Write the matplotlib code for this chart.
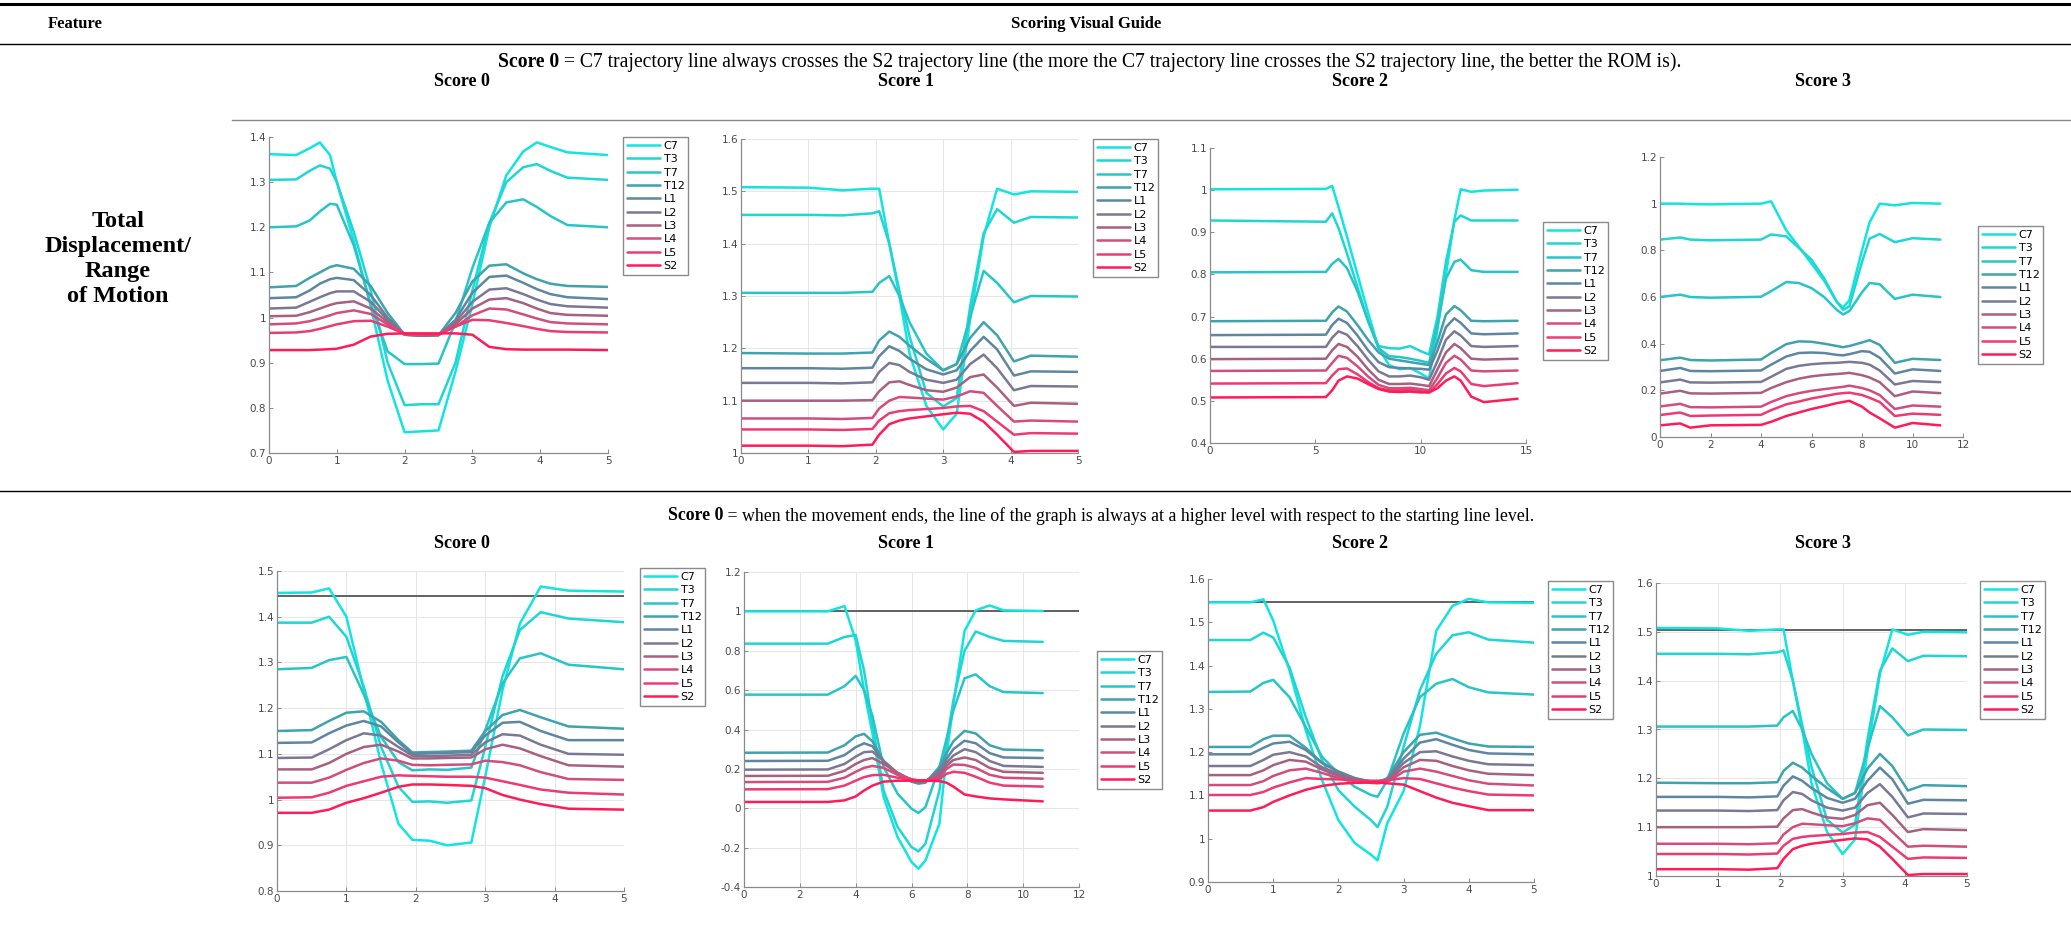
import matplotlib
matplotlib.use("Agg")
import matplotlib.pyplot as plt
from matplotlib.ticker import FormatStrFormatter

W, H = 2071, 925
fig = plt.figure(figsize=(W / 100, H / 100), dpi=100)
fig.patch.set_facecolor("white")

# ---------------- data ----------------
markers = ["C7", "T3", "T7", "T12", "L1", "L2", "L3", "L4", "L5", "S2"]

# row 1, score 0
r1s0_x = [0, 0.4, 0.6, 0.75, 0.9, 1.0, 1.25, 1.5, 1.75, 2.0, 2.25, 2.5, 2.75, 3.0, 3.25, 3.5, 3.75, 3.95, 4.15, 4.4, 5.0]
r1s0_y = [
    [1.362, 1.360, 1.375, 1.388, 1.360, 1.300, 1.170, 1.025, 0.860, 0.746, 0.748, 0.750, 0.880, 1.030, 1.200, 1.315, 1.368, 1.388, 1.378, 1.366, 1.360],
    [1.305, 1.306, 1.325, 1.337, 1.330, 1.300, 1.190, 1.060, 0.900, 0.806, 0.808, 0.808, 0.900, 1.060, 1.210, 1.300, 1.333, 1.340, 1.325, 1.310, 1.305],
    [1.200, 1.202, 1.215, 1.235, 1.252, 1.250, 1.160, 1.030, 0.925, 0.897, 0.897, 0.898, 0.990, 1.110, 1.210, 1.255, 1.262, 1.245, 1.225, 1.205, 1.200],
    [1.067, 1.070, 1.088, 1.100, 1.112, 1.116, 1.108, 1.070, 1.010, 0.962, 0.960, 0.961, 1.010, 1.080, 1.115, 1.118, 1.098, 1.085, 1.075, 1.070, 1.068],
    [1.043, 1.045, 1.060, 1.075, 1.085, 1.088, 1.083, 1.050, 1.000, 0.962, 0.960, 0.961, 0.995, 1.055, 1.090, 1.093, 1.077, 1.063, 1.052, 1.045, 1.041],
    [1.020, 1.022, 1.035, 1.045, 1.054, 1.058, 1.058, 1.035, 0.995, 0.962, 0.960, 0.961, 0.990, 1.035, 1.062, 1.065, 1.052, 1.040, 1.030, 1.025, 1.022],
    [1.003, 1.004, 1.012, 1.020, 1.028, 1.032, 1.036, 1.020, 0.990, 0.963, 0.961, 0.962, 0.985, 1.020, 1.040, 1.043, 1.032, 1.020, 1.010, 1.006, 1.004],
    [0.985, 0.987, 0.992, 0.998, 1.005, 1.010, 1.016, 1.008, 0.985, 0.963, 0.962, 0.962, 0.980, 1.005, 1.020, 1.018, 1.007, 0.998, 0.990, 0.987, 0.985],
    [0.966, 0.967, 0.970, 0.975, 0.981, 0.985, 0.992, 0.993, 0.980, 0.964, 0.963, 0.963, 0.980, 0.995, 0.994, 0.988, 0.981, 0.975, 0.970, 0.968, 0.967],
    [0.928, 0.928, 0.928, 0.929, 0.930, 0.931, 0.940, 0.958, 0.964, 0.965, 0.965, 0.965, 0.965, 0.962, 0.935, 0.930, 0.929, 0.929, 0.929, 0.929, 0.928],
]

# row 1, score 1 (same recording is shown again in row 2, score 3)
r1s1_x = [0, 1.0, 1.5, 1.95, 2.05, 2.2, 2.35, 2.5, 2.75, 3.0, 3.2, 3.4, 3.6, 3.8, 4.05, 4.3, 5.0]
r1s1_y = [
    [1.508, 1.507, 1.502, 1.505, 1.505, 1.400, 1.300, 1.190, 1.090, 1.045, 1.075, 1.255, 1.414, 1.505, 1.494, 1.500, 1.499],
    [1.455, 1.455, 1.454, 1.458, 1.462, 1.400, 1.310, 1.223, 1.115, 1.089, 1.105, 1.280, 1.420, 1.466, 1.440, 1.451, 1.450],
    [1.306, 1.306, 1.306, 1.308, 1.325, 1.338, 1.300, 1.250, 1.190, 1.158, 1.170, 1.260, 1.348, 1.325, 1.288, 1.300, 1.299],
    [1.191, 1.190, 1.190, 1.192, 1.215, 1.232, 1.222, 1.205, 1.180, 1.158, 1.170, 1.220, 1.250, 1.225, 1.175, 1.186, 1.184],
    [1.162, 1.162, 1.161, 1.163, 1.185, 1.204, 1.195, 1.180, 1.160, 1.150, 1.158, 1.195, 1.222, 1.198, 1.148, 1.156, 1.155],
    [1.134, 1.134, 1.133, 1.135, 1.155, 1.172, 1.168, 1.155, 1.140, 1.134, 1.140, 1.170, 1.188, 1.162, 1.120, 1.128, 1.127],
    [1.100, 1.100, 1.100, 1.101, 1.118, 1.135, 1.137, 1.130, 1.120, 1.117, 1.125, 1.145, 1.150, 1.125, 1.090, 1.096, 1.094],
    [1.066, 1.066, 1.065, 1.067, 1.085, 1.100, 1.107, 1.106, 1.104, 1.102, 1.108, 1.118, 1.115, 1.090, 1.060, 1.062, 1.060],
    [1.045, 1.045, 1.044, 1.046, 1.062, 1.076, 1.080, 1.082, 1.084, 1.086, 1.089, 1.090, 1.080, 1.060, 1.035, 1.038, 1.037],
    [1.014, 1.014, 1.013, 1.016, 1.035, 1.055, 1.062, 1.066, 1.070, 1.074, 1.077, 1.075, 1.060, 1.035, 1.002, 1.004, 1.004],
]

# row 1, score 2
r1s2_x = [0, 5.5, 5.8, 6.1, 6.5, 7.0, 7.5, 8.0, 8.5, 9.0, 9.5, 10.0, 10.4, 10.8, 11.2, 11.6, 11.9, 12.4, 13.0, 14.6]
r1s2_y = [
    [1.002, 1.003, 1.010, 0.960, 0.890, 0.800, 0.710, 0.625, 0.585, 0.575, 0.578, 0.565, 0.553, 0.670, 0.800, 0.930, 1.002, 0.996, 0.999, 1.001],
    [0.928, 0.925, 0.945, 0.910, 0.850, 0.770, 0.690, 0.630, 0.625, 0.624, 0.630, 0.618, 0.610, 0.700, 0.830, 0.925, 0.940, 0.928, 0.928, 0.928],
    [0.805, 0.806, 0.825, 0.837, 0.815, 0.760, 0.690, 0.625, 0.606, 0.604, 0.600, 0.595, 0.590, 0.680, 0.790, 0.830, 0.835, 0.810, 0.806, 0.806],
    [0.689, 0.690, 0.710, 0.724, 0.712, 0.680, 0.645, 0.615, 0.600, 0.596, 0.592, 0.588, 0.585, 0.640, 0.705, 0.725, 0.715, 0.690, 0.689, 0.690],
    [0.656, 0.657, 0.680, 0.695, 0.685, 0.655, 0.620, 0.592, 0.580, 0.578, 0.577, 0.576, 0.574, 0.620, 0.675, 0.696, 0.685, 0.660, 0.658, 0.660],
    [0.628, 0.628, 0.650, 0.665, 0.657, 0.630, 0.598, 0.570, 0.558, 0.558, 0.560, 0.556, 0.550, 0.595, 0.645, 0.665, 0.655, 0.630, 0.628, 0.630],
    [0.599, 0.600, 0.620, 0.635, 0.628, 0.605, 0.575, 0.550, 0.540, 0.540, 0.541, 0.538, 0.535, 0.575, 0.615, 0.635, 0.625, 0.600, 0.598, 0.600],
    [0.571, 0.572, 0.590, 0.607, 0.602, 0.582, 0.558, 0.538, 0.530, 0.530, 0.531, 0.528, 0.525, 0.555, 0.590, 0.607, 0.598, 0.572, 0.570, 0.572],
    [0.541, 0.542, 0.560, 0.575, 0.577, 0.563, 0.545, 0.530, 0.525, 0.525, 0.526, 0.523, 0.520, 0.540, 0.565, 0.578, 0.570, 0.540, 0.535, 0.542],
    [0.508, 0.509, 0.525, 0.548, 0.558, 0.553, 0.540, 0.528, 0.522, 0.521, 0.522, 0.520, 0.520, 0.530, 0.548, 0.558, 0.548, 0.510, 0.497, 0.505],
]

# row 1, score 3
r1s3_x = [0, 0.8, 1.2, 2.0, 4.0, 4.4, 5.0, 5.5, 6.0, 6.5, 7.0, 7.25, 7.5, 8.0, 8.3, 8.7, 9.3, 10.0, 11.1]
r1s3_y = [
    [1.000, 1.000, 0.998, 0.997, 1.000, 1.010, 0.886, 0.815, 0.743, 0.670, 0.579, 0.555, 0.586, 0.800, 0.920, 1.000, 0.993, 1.003, 1.000],
    [0.846, 0.855, 0.846, 0.843, 0.846, 0.868, 0.860, 0.810, 0.760, 0.680, 0.580, 0.545, 0.560, 0.750, 0.850, 0.870, 0.835, 0.852, 0.846],
    [0.600, 0.610, 0.600, 0.597, 0.601, 0.625, 0.664, 0.660, 0.638, 0.600, 0.545, 0.525, 0.540, 0.620, 0.660, 0.655, 0.592, 0.610, 0.600],
    [0.329, 0.340, 0.330, 0.328, 0.332, 0.360, 0.398, 0.410, 0.408, 0.400, 0.390, 0.385, 0.390, 0.405, 0.415, 0.395, 0.318, 0.335, 0.330],
    [0.283, 0.296, 0.283, 0.282, 0.285, 0.310, 0.345, 0.360, 0.362, 0.360, 0.352, 0.350, 0.355, 0.368, 0.365, 0.340, 0.272, 0.290, 0.283],
    [0.234, 0.246, 0.234, 0.233, 0.236, 0.258, 0.292, 0.305, 0.312, 0.316, 0.318, 0.320, 0.322, 0.318, 0.310, 0.285, 0.225, 0.240, 0.235],
    [0.186, 0.198, 0.187, 0.186, 0.189, 0.210, 0.235, 0.250, 0.260, 0.266, 0.270, 0.272, 0.275, 0.265, 0.255, 0.235, 0.175, 0.195, 0.188],
    [0.131, 0.142, 0.128, 0.127, 0.130, 0.150, 0.175, 0.188, 0.198, 0.205, 0.212, 0.215, 0.220, 0.210, 0.200, 0.180, 0.120, 0.135, 0.130],
    [0.094, 0.105, 0.090, 0.092, 0.095, 0.115, 0.140, 0.152, 0.165, 0.175, 0.185, 0.188, 0.190, 0.180, 0.168, 0.150, 0.090, 0.100, 0.095],
    [0.050, 0.058, 0.040, 0.050, 0.052, 0.065, 0.090, 0.105, 0.120, 0.132, 0.145, 0.150, 0.155, 0.130, 0.105, 0.080, 0.040, 0.060, 0.050],
]

# row 2, score 0
r2s0_x = [0, 0.5, 0.75, 1.0, 1.25, 1.5, 1.75, 1.95, 2.2, 2.45, 2.8, 3.0, 3.25, 3.5, 3.8, 4.2, 5.0]
r2s0_y = [
    [1.452, 1.453, 1.462, 1.400, 1.240, 1.079, 0.947, 0.912, 0.910, 0.900, 0.906, 1.050, 1.240, 1.385, 1.466, 1.457, 1.455],
    [1.387, 1.387, 1.400, 1.356, 1.247, 1.115, 1.028, 0.995, 0.996, 0.993, 0.998, 1.115, 1.270, 1.371, 1.410, 1.396, 1.388],
    [1.285, 1.288, 1.305, 1.312, 1.230, 1.137, 1.082, 1.064, 1.066, 1.065, 1.070, 1.152, 1.254, 1.309, 1.320, 1.295, 1.285],
    [1.150, 1.152, 1.172, 1.190, 1.193, 1.170, 1.130, 1.103, 1.104, 1.105, 1.107, 1.150, 1.185, 1.196, 1.180, 1.160, 1.155],
    [1.124, 1.125, 1.145, 1.162, 1.172, 1.160, 1.125, 1.100, 1.101, 1.102, 1.104, 1.140, 1.168, 1.170, 1.150, 1.130, 1.130],
    [1.091, 1.092, 1.110, 1.130, 1.145, 1.140, 1.115, 1.096, 1.095, 1.096, 1.098, 1.125, 1.143, 1.140, 1.120, 1.100, 1.098],
    [1.066, 1.066, 1.080, 1.100, 1.115, 1.120, 1.105, 1.090, 1.090, 1.091, 1.092, 1.110, 1.120, 1.112, 1.095, 1.075, 1.072],
    [1.037, 1.037, 1.048, 1.065, 1.080, 1.090, 1.085, 1.076, 1.075, 1.076, 1.077, 1.085, 1.082, 1.075, 1.060, 1.045, 1.043],
    [1.004, 1.005, 1.015, 1.030, 1.040, 1.050, 1.053, 1.052, 1.051, 1.050, 1.050, 1.048, 1.040, 1.032, 1.022, 1.015, 1.011],
    [0.971, 0.971, 0.978, 0.993, 1.003, 1.015, 1.028, 1.033, 1.033, 1.032, 1.030, 1.025, 1.010, 1.000, 0.990, 0.980, 0.978],
]

# row 2, score 1
r2s1_x = [0, 3.0, 3.6, 4.0, 4.3, 4.6, 5.0, 5.5, 6.0, 6.25, 6.5, 7.0, 7.25, 7.5, 7.9, 8.3, 8.8, 9.3, 10.7]
r2s1_y = [
    [1.000, 1.000, 1.027, 0.853, 0.600, 0.380, 0.057, -0.146, -0.273, -0.307, -0.265, -0.078, 0.260, 0.530, 0.900, 1.005, 1.030, 1.005, 1.002],
    [0.836, 0.836, 0.870, 0.880, 0.700, 0.430, 0.090, -0.095, -0.197, -0.219, -0.180, 0.090, 0.330, 0.548, 0.800, 0.898, 0.870, 0.850, 0.845],
    [0.577, 0.577, 0.620, 0.672, 0.600, 0.470, 0.210, 0.074, -0.002, -0.024, 0.006, 0.210, 0.350, 0.497, 0.660, 0.680, 0.620, 0.590, 0.585],
    [0.282, 0.283, 0.320, 0.365, 0.378, 0.340, 0.240, 0.170, 0.135, 0.125, 0.130, 0.210, 0.280, 0.340, 0.393, 0.380, 0.320, 0.298, 0.294],
    [0.240, 0.241, 0.270, 0.310, 0.330, 0.315, 0.240, 0.175, 0.138, 0.128, 0.133, 0.195, 0.250, 0.300, 0.343, 0.330, 0.280, 0.258, 0.255],
    [0.196, 0.197, 0.225, 0.262, 0.285, 0.288, 0.240, 0.180, 0.142, 0.133, 0.137, 0.180, 0.230, 0.268, 0.300, 0.285, 0.240, 0.215, 0.210],
    [0.164, 0.165, 0.190, 0.225, 0.245, 0.255, 0.225, 0.180, 0.145, 0.138, 0.140, 0.170, 0.215, 0.245, 0.258, 0.245, 0.205, 0.185, 0.180],
    [0.133, 0.134, 0.155, 0.185, 0.205, 0.215, 0.205, 0.170, 0.148, 0.140, 0.140, 0.160, 0.200, 0.222, 0.220, 0.205, 0.170, 0.155, 0.150],
    [0.096, 0.097, 0.115, 0.140, 0.158, 0.168, 0.170, 0.155, 0.145, 0.142, 0.142, 0.150, 0.175, 0.185, 0.180, 0.160, 0.130, 0.115, 0.110],
    [0.032, 0.032, 0.040, 0.060, 0.090, 0.115, 0.135, 0.140, 0.140, 0.140, 0.140, 0.138, 0.130, 0.110, 0.070, 0.060, 0.050, 0.045, 0.035],
]

# row 2, score 2
r2s2_x = [0, 0.65, 0.85, 1.0, 1.25, 1.5, 1.75, 2.0, 2.25, 2.5, 2.6, 2.75, 3.0, 3.25, 3.5, 3.75, 4.0, 4.3, 5.0]
r2s2_y = [
    [1.546, 1.546, 1.553, 1.504, 1.389, 1.250, 1.135, 1.043, 0.990, 0.963, 0.950, 1.036, 1.110, 1.260, 1.480, 1.538, 1.554, 1.546, 1.545],
    [1.459, 1.459, 1.476, 1.465, 1.396, 1.281, 1.181, 1.112, 1.074, 1.043, 1.027, 1.074, 1.212, 1.343, 1.427, 1.470, 1.477, 1.460, 1.453],
    [1.339, 1.340, 1.360, 1.367, 1.327, 1.258, 1.189, 1.151, 1.120, 1.101, 1.097, 1.135, 1.243, 1.327, 1.358, 1.369, 1.350, 1.338, 1.333],
    [1.212, 1.212, 1.230, 1.238, 1.238, 1.210, 1.175, 1.155, 1.140, 1.132, 1.130, 1.140, 1.200, 1.240, 1.245, 1.232, 1.220, 1.213, 1.212],
    [1.195, 1.195, 1.210, 1.220, 1.224, 1.205, 1.175, 1.155, 1.140, 1.131, 1.130, 1.138, 1.185, 1.222, 1.230, 1.217, 1.205, 1.197, 1.195],
    [1.168, 1.168, 1.182, 1.194, 1.200, 1.190, 1.165, 1.150, 1.138, 1.131, 1.130, 1.136, 1.175, 1.200, 1.202, 1.190, 1.180, 1.172, 1.170],
    [1.147, 1.147, 1.158, 1.170, 1.182, 1.178, 1.160, 1.145, 1.135, 1.130, 1.129, 1.133, 1.165, 1.182, 1.180, 1.168, 1.158, 1.150, 1.147],
    [1.124, 1.124, 1.133, 1.145, 1.158, 1.162, 1.152, 1.140, 1.133, 1.129, 1.128, 1.131, 1.155, 1.162, 1.155, 1.145, 1.135, 1.127, 1.123],
    [1.101, 1.101, 1.108, 1.118, 1.130, 1.140, 1.138, 1.137, 1.135, 1.134, 1.134, 1.135, 1.140, 1.138, 1.128, 1.118, 1.110, 1.102, 1.100],
    [1.065, 1.065, 1.073, 1.085, 1.100, 1.113, 1.122, 1.127, 1.129, 1.130, 1.130, 1.128, 1.125, 1.110, 1.095, 1.083, 1.075, 1.066, 1.066],
]

# row 2, score 3 reuses the row 1, score 1 recording
r2s3_x = r1s1_x
r2s3_y = r1s1_y

# starting-level reference lines drawn in row 2
ref_levels = [1.446, 1.0, 1.547, 1.503]

row_texts = [
    ("Score 0", " = C7 trajectory line always crosses the S2 trajectory line (the more the C7 trajectory "
                "line crosses the S2 trajectory line, the better the ROM is)."),
    ("Score 0", " = when the movement ends, the line of the graph is always at a higher level with "
                "respect to the starting line level."),
]
score_titles = ["Score 0", "Score 1", "Score 2", "Score 3"]

# ---------------- style ----------------
colors = ["#12e4e0", "#1fd6d2", "#27c5c8", "#3fa3ad", "#5f86a0", "#7a7894",
          "#a8607f", "#d24d7c", "#ec3a72", "#ff1b58"]
serif = ["Liberation Serif", "DejaVu Serif"]


def fx(px):
    return px / W


def fy(py):
    return 1 - py / H


def rule(y, x0=0, x1=W, lw=1.0, color="black"):
    fig.add_artist(plt.Line2D([fx(x0), fx(x1)], [fy(y), fy(y)], transform=fig.transFigure,
                              color=color, lw=lw))


def mixed_text(xc, y, bold, rest, size, target_w=None):
    r = fig.canvas.get_renderer()
    t1 = fig.text(0, fy(y), bold, fontsize=size, fontweight="bold", family=serif, va="center")
    t2 = fig.text(0, fy(y), rest, fontsize=size, family=serif, va="center")
    w = t1.get_window_extent(r).width + t2.get_window_extent(r).width
    if target_w:
        size = size * target_w / w
        t1.set_fontsize(size)
        t2.set_fontsize(size)
    w1 = t1.get_window_extent(r).width
    w2 = t2.get_window_extent(r).width
    x0 = xc - (w1 + w2) / 2
    t1.set_x(fx(x0))
    t2.set_x(fx(x0 + w1))


def panel(box, xs, ys, xlim, ylim, xstep, ystep, leg_xy, ref=None, grid=False):
    l, t, r, b = box
    ax = fig.add_axes([fx(l), fy(b), fx(r - l), (b - t) / H])
    if grid:
        ax.grid(True, color="#e6e6e6", lw=0.7)
        ax.set_axisbelow(True)
    if ref is not None:
        ax.axhline(ref, color="#555555", lw=1.3, zorder=1)
    for name, yv, c in zip(markers, ys, colors):
        ax.plot(xs, yv, color=c, lw=1.8, label=name, zorder=2,
                solid_joinstyle="round", solid_capstyle="round")
    ax.set_xlim(*xlim)
    ax.set_ylim(*ylim)
    ax.set_xticks([xlim[0] + i * xstep for i in range(int(round((xlim[1] - xlim[0]) / xstep)) + 1)])
    ax.set_yticks([ylim[0] + i * ystep for i in range(int(round((ylim[1] - ylim[0]) / ystep)) + 1)])
    ax.xaxis.set_major_formatter(FormatStrFormatter("%g"))
    ax.yaxis.set_major_formatter(FormatStrFormatter("%g"))
    for s in ["top", "right"]:
        ax.spines[s].set_visible(False)
    for s in ["left", "bottom"]:
        ax.spines[s].set_color("#8a8a8a")
        ax.spines[s].set_linewidth(0.9)
    ax.tick_params(direction="in", length=3, width=0.7, color="#8a8a8a",
                   labelsize=7.5, labelcolor="#4a4a4a", pad=2)
    ax.legend(loc="upper left", bbox_to_anchor=(fx(leg_xy[0]), fy(leg_xy[1])),
              bbox_transform=fig.transFigure, fontsize=8, handlelength=3.0,
              labelspacing=0.3, borderpad=0.35, handletextpad=0.3, borderaxespad=0,
              frameon=True, fancybox=False, edgecolor="#8a8a8a", framealpha=1)
    return ax


# ---------------- table frame and texts ----------------
rule(4, lw=2.2)
rule(44, lw=1.0)
rule(120, x0=232, lw=1.0, color="#888888")
rule(491, lw=1.0)

fig.text(fx(75), fy(24), "Feature", fontsize=12, fontweight="bold", family=serif, ha="center", va="center")
fig.text(fx(1086), fy(24), "Scoring Visual Guide", fontsize=12, fontweight="bold", family=serif,
         ha="center", va="center")
fig.text(fx(118), fy(259), "Total\nDisplacement/\nRange\nof Motion", fontsize=17.5, fontweight="bold",
         family=serif, ha="center", va="center", linespacing=1.25)

mixed_text(1090, 62, row_texts[0][0], row_texts[0][1], 13, target_w=1182)
mixed_text(1101, 516, row_texts[1][0], row_texts[1][1], 13, target_w=861)

title_x = [462, 906, 1360, 1823]
for xc, s in zip(title_x, score_titles):
    fig.text(fx(xc), fy(81), s, fontsize=13, fontweight="bold", family=serif, ha="center", va="center")
    fig.text(fx(xc), fy(543), s, fontsize=13, fontweight="bold", family=serif, ha="center", va="center")

# ---------------- panels ----------------
panel((269, 137, 608, 453), r1s0_x, r1s0_y, (0, 5), (0.7, 1.4), 1, 0.1, (623, 137))
panel((741, 139, 1078, 453), r1s1_x, r1s1_y, (0, 5), (1.0, 1.6), 1, 0.1, (1093, 139), grid=True)
panel((1210, 148, 1526, 443), r1s2_x, r1s2_y, (0, 15), (0.4, 1.1), 5, 0.1, (1543, 222))
panel((1660, 157, 1963, 437), r1s3_x, r1s3_y, (0, 12), (0.0, 1.2), 2, 0.2, (1978, 226))

panel((277, 571, 624, 891), r2s0_x, r2s0_y, (0, 5), (0.8, 1.5), 1, 0.1, (640, 568),
      ref=ref_levels[0], grid=True)
panel((744, 572, 1079, 887), r2s1_x, r2s1_y, (0, 12), (-0.4, 1.2), 2, 0.2, (1097, 651),
      ref=ref_levels[1], grid=True)
panel((1208, 579, 1534, 882), r2s2_x, r2s2_y, (0, 5), (0.9, 1.6), 1, 0.1, (1548, 581),
      ref=ref_levels[2])
panel((1656, 583, 1967, 876), r2s3_x, r2s3_y, (0, 5), (1.0, 1.6), 1, 0.1, (1980, 581),
      ref=ref_levels[3], grid=True)

fig.savefig("out.png", dpi=100, facecolor="white")
